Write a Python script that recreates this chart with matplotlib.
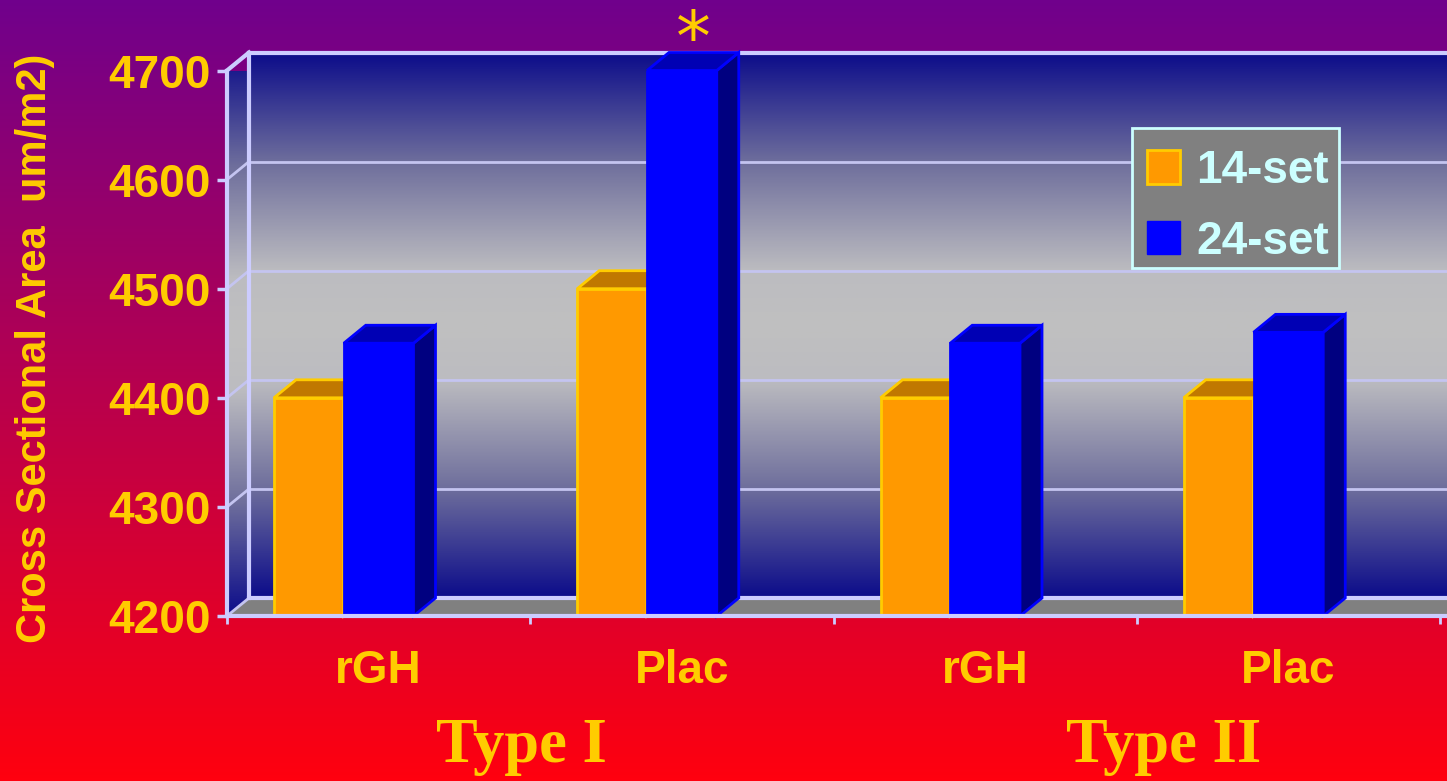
import numpy as np
import matplotlib
matplotlib.use("Agg")
import matplotlib.pyplot as plt
import matplotlib.transforms as mtransforms
from matplotlib.colors import LinearSegmentedColormap
from matplotlib.patches import Polygon, Patch, Rectangle

# 数据
categories = ["rGH", "Plac", "rGH", "Plac"]
groups = ["Type I", "Type II"]
series_names = ["14-set", "24-set"]
vals_14 = [4400, 4500, 4400, 4400]
vals_24 = [4450, 4700, 4450, 4460]
yticks = [4200, 4300, 4400, 4500, 4600, 4700]
ylabel = "Cross Sectional Area  um/m2)"

# 颜色
YELLOW = "#FFCC00"
ORANGE = "#FF9900"
ORANGE_TOP = "#C07800"
BLUE = "#0000FF"
BLUE_TOP = "#0000B4"
BLUE_SIDE = "#000080"
LAVENDER = "#CCCCFF"
GRID = "#C4C4F0"

W, H = 1447, 781
fig = plt.figure(figsize=(W / 100, H / 100), dpi=100)

# 背景渐变 紫 -> 红
bg = fig.add_axes([0, 0, 1, 1])
t = np.linspace(0, 1, 256)[:, None]
top = np.array([0x70, 0x00, 0x8C]) / 255
bot = np.array([0xFF, 0x00, 0x0F]) / 255
grad = (top[None, None, :] * (1 - t[..., None]) + bot[None, None, :] * t[..., None])
bg.imshow(np.repeat(grad, 2, axis=1), aspect="auto", extent=[0, 1, 0, 1])
bg.set_axis_off()

# 主坐标（前平面）
x0_px, y0_px, ytop_px = 227, 616, 70.5
ax = fig.add_axes([x0_px / W, (H - y0_px) / H, (W - x0_px) / W, (y0_px - ytop_px) / H])
ax.set_facecolor("none")
unit = 303.25
xmin, xmax = -0.5, -0.5 + (W - x0_px) / unit
ymin, ymax = 4200, 4700
dx = 22 / unit
dy = 18 * (ymax - ymin) / (y0_px - ytop_px)

wall_cmap = LinearSegmentedColormap.from_list(
    "wall", [(0, "#0C0C8A"), (0.2, "#6E6E9C"), (0.4, "#BCBCC0"), (0.5, "#C0C0C0"),
             (0.6, "#BCBCC0"), (0.8, "#6E6E9C"), (1, "#0C0C8A")])
wgrad = np.linspace(0, 1, 256)[:, None]

# 后墙
im = ax.imshow(np.repeat(wgrad, 2, axis=1), cmap=wall_cmap, aspect="auto",
               extent=[xmin + dx, xmax + dx, ymin + dy, ymax + dy], zorder=0.1)
im.set_clip_on(False)

# 左侧墙
side = Polygon([(xmin, ymin), (xmin + dx, ymin + dy), (xmin + dx, ymax + dy), (xmin, ymax)],
               closed=True, fc="none", ec="none", clip_on=False)
ax.add_patch(side)
im2 = ax.imshow(np.repeat(wgrad, 2, axis=1), cmap=wall_cmap, aspect="auto",
                extent=[xmin, xmin + dx, ymin, ymax + dy], zorder=0.1)
im2.set_clip_path(side)

# 地板
floor = Polygon([(xmin, ymin), (xmax + 1, ymin), (xmax + 1 + dx, ymin + dy), (xmin + dx, ymin + dy)],
                closed=True, fc="#808080", ec="none", zorder=0.2, clip_on=False)
ax.add_patch(floor)

# 网格线
for v in yticks:
    ax.plot([xmin + dx, xmax + dx], [v + dy, v + dy], color=GRID, lw=2, zorder=0.3,
            clip_on=False, solid_capstyle="butt")
    ax.plot([xmin, xmin + dx], [v, v + dy], color=GRID, lw=2, zorder=0.3, clip_on=False)
ax.plot([xmin + dx, xmin + dx], [ymin + dy, ymax + dy], color=LAVENDER, lw=3, zorder=0.35, clip_on=False)
ax.plot([xmin + dx, xmax + dx], [ymax + dy, ymax + dy], color=LAVENDER, lw=3, zorder=0.35, clip_on=False)
ax.plot([xmin, xmin + dx], [ymax, ymax + dy], color=LAVENDER, lw=3, zorder=0.35, clip_on=False)
ax.plot([xmin + dx, xmax + dx], [ymin + dy, ymin + dy], color=LAVENDER, lw=3, zorder=0.35, clip_on=False)

# 3D 柱子
x = np.arange(len(categories))
w = 0.23


def bar3d(xc, vals, face, top_c, side_c, edge, z):
    ax.bar(xc, np.array(vals) - ymin, bottom=ymin, width=w, color=face,
           edgecolor=edge, linewidth=2, zorder=z)
    for xi, v in zip(xc, vals):
        l, r = xi - w / 2, xi + w / 2
        ax.add_patch(Polygon([(r, ymin), (r + dx, ymin + dy), (r + dx, v + dy), (r, v)],
                             closed=True, fc=side_c, ec=edge, lw=2, zorder=z, clip_on=False))
        ax.add_patch(Polygon([(l, v), (r, v), (r + dx, v + dy), (l + dx, v + dy)],
                             closed=True, fc=top_c, ec=edge, lw=2, zorder=z, clip_on=False))


bar3d(x - w, vals_14, ORANGE, ORANGE_TOP, ORANGE_TOP, YELLOW, 2)
bar3d(x, vals_24, BLUE, BLUE_TOP, BLUE_SIDE, BLUE, 3)

# 显著性星号
ax.annotate("*", xy=(x[1] + dx / 2, vals_24[1] + dy), xytext=(0, -6), textcoords="offset points",
            ha="center", va="baseline", fontsize=50, color=YELLOW, family="DejaVu Sans",
            annotation_clip=False)

# 坐标轴
ax.set_xlim(xmin, xmax)
ax.set_ylim(ymin, ymax)
for s in ["top", "right"]:
    ax.spines[s].set_visible(False)
for s in ["left", "bottom"]:
    ax.spines[s].set_color(LAVENDER)
    ax.spines[s].set_linewidth(3)
    ax.spines[s].set_zorder(5)

ax.set_yticks(yticks)
ax.set_yticklabels([str(v) for v in yticks])
ax.tick_params(axis="y", direction="out", length=7.5, width=2.5, color=LAVENDER, pad=4,
               labelsize=33, labelcolor=YELLOW)
ax.set_xticks(x)
ax.set_xticklabels(categories)
ax.set_xticks(np.arange(-0.5, 4, 1), minor=True)
ax.tick_params(axis="x", which="major", length=0, pad=24, labelsize=33, labelcolor=YELLOW)
ax.tick_params(axis="x", which="minor", direction="out", length=6, width=2, color=LAVENDER)
for lab in ax.get_xticklabels() + ax.get_yticklabels():
    lab.set_fontweight("bold")
    lab.set_family("Liberation Sans")

# 分组标签
trans = mtransforms.blended_transform_factory(ax.transData, fig.transFigure)
for gx, g in zip([0.47, 2.59], groups):
    ax.text(gx, 1 - 747 / H, g, transform=trans, ha="center", va="center",
            fontsize=45, fontweight="bold", family="Liberation Serif", color=YELLOW,
            clip_on=False)

fig.text(35 / W, 1 - 348 / H, ylabel, rotation=90, ha="center", va="center",
         fontsize=30, fontweight="bold", family="Liberation Sans", color=YELLOW)

# 图例
ax.add_patch(Rectangle((1132 / W, 1 - 268 / H), (1339 - 1132) / W, 140 / H,
                       transform=fig.transFigure, fc="#808080", ec="#CCFFFF", lw=2,
                       zorder=9, clip_on=False))
handles = [Patch(fc=ORANGE, ec=YELLOW, lw=2), Patch(fc=BLUE, ec=BLUE, lw=1)]
leg = ax.legend(handles, series_names, loc="upper left",
                bbox_to_anchor=(1147 / W, 1 - 149 / H), bbox_transform=fig.transFigure,
                borderaxespad=0, borderpad=0, frameon=False, handlelength=0.72,
                handleheight=0.75, handletextpad=0.35, labelspacing=0.58,
                prop={"family": "Liberation Sans", "weight": "bold", "size": 33})
for txt in leg.get_texts():
    txt.set_color("#CCFFFF")
leg.set_zorder(10)

fig.savefig("out.png", dpi=100)
